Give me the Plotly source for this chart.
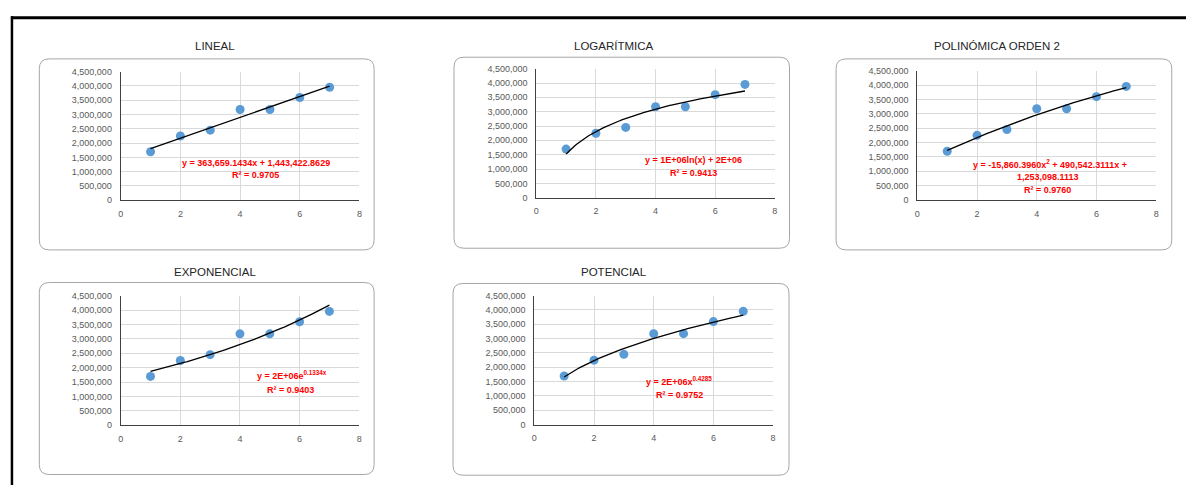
import numpy as np
import plotly.graph_objects as go

W, H = 1189, 490

# --- data -------------------------------------------------------------
periodo = [1, 2, 3, 4, 5, 6, 7]
valores = [1695000, 2249000, 2451000, 3173000, 3174000, 3593000, 3952000]

titulos = ["LINEAL", "LOGARÍTMICA", "POLINÓMICA ORDEN 2", "EXPONENCIAL", "POTENCIAL"]

coef_lineal = [363659.1434, 1443422.8629]              # y = m x + b
coef_polinomica = [-15860.3960, 490542.3111, 1253098.1113]  # y = a x^2 + b x + c

ecuaciones = [
    ["y = 363,659.1434x + 1,443,422.8629", "R² = 0.9705"],
    ["y = 1E+06ln(x) + 2E+06", "R² = 0.9413"],
    ["y = -15,860.3960x<sup>2</sup> + 490,542.3111x +", "1,253,098.1113", "R² = 0.9760"],
    ["y = 2E+06e<sup>0.1334x</sup>", "R² = 0.9403"],
    ["y = 2E+06x<sup>0.4285</sup>", "R² = 0.9752"],
]

x_ticks = [0, 2, 4, 6, 8]
y_ticks = [0, 500000, 1000000, 1500000, 2000000, 2500000, 3000000, 3500000, 4000000, 4500000]

# --- trendlines -------------------------------------------------------
x = np.array(periodo, dtype=float)
y = np.array(valores, dtype=float)
xc = np.linspace(1, 7, 120)

log_a, log_b = np.polyfit(np.log(x), y, 1)
exp_k, exp_lna = np.polyfit(x, np.log(y), 1)
pot_k, pot_lna = np.polyfit(np.log(x), np.log(y), 1)

tendencias = [
    coef_lineal[0] * xc + coef_lineal[1],
    log_a * np.log(xc) + log_b,
    coef_polinomica[0] * xc ** 2 + coef_polinomica[1] * xc + coef_polinomica[2],
    np.exp(exp_lna) * np.exp(exp_k * xc),
    np.exp(pot_lna) * xc ** pot_k,
]

# --- layout of the five panels (pixels) -------------------------------
paneles = [
    dict(area=(118.3, 358.3, 68.0, 199.3), caja=(36.5, 373, 55, 250),
         titulo=(212.7, 41.7), ec=[(254, 161), (254, 174)]),
    dict(area=(536.0, 775.7, 65.0, 196.7), caja=(453.3, 790.5, 53.3, 248.3),
         titulo=(614.3, 41.7), ec=[(694.5, 158.7), (694.5, 172)]),
    dict(area=(919.0, 1159.0, 67.0, 199.0), caja=(837.3, 1174.7, 55, 250),
         titulo=(998.7, 42.0), ec=[(1052.5, 162), (1050, 175.7), (1050, 188.7)]),
    dict(area=(118.3, 358.0, 296.7, 429.0), caja=(36.5, 373, 283.3, 479.3),
         titulo=(212.7, 272.7), ec=[(290, 377.5), (289, 392.7)]),
    dict(area=(534.0, 774.0, 296.7, 428.3), caja=(452.3, 790, 284.3, 480),
         titulo=(613.7, 272.7), ec=[(679.5, 383.5), (679.7, 397.7)]),
]


def px(v):
    return v / W


def py(v):
    return 1 - v / H


def caja_redondeada(x0, x1, y0, y1, r=10):
    pts = [
        f"M {px(x0 + r)},{py(y0)}",
        f"L {px(x1 - r)},{py(y0)}",
        f"Q {px(x1)},{py(y0)} {px(x1)},{py(y0 + r)}",
        f"L {px(x1)},{py(y1 - r)}",
        f"Q {px(x1)},{py(y1)} {px(x1 - r)},{py(y1)}",
        f"L {px(x0 + r)},{py(y1)}",
        f"Q {px(x0)},{py(y1)} {px(x0)},{py(y1 - r)}",
        f"L {px(x0)},{py(y0 + r)}",
        f"Q {px(x0)},{py(y0)} {px(x0 + r)},{py(y0)}",
        "Z",
    ]
    return " ".join(pts)


fig = go.Figure()
shapes = []
annotations = []
FONT = "Liberation Sans, Arial, sans-serif"

for i, p in enumerate(paneles):
    n = "" if i == 0 else str(i + 1)
    xa, ya = "x" + n, "y" + n
    x0, x1, yt, yb = p["area"]

    fig.add_trace(go.Scatter(
        x=periodo, y=valores, mode="markers", xaxis=xa, yaxis=ya,
        marker=dict(size=9, color="#5B9BD5"), hoverinfo="x+y", showlegend=False))
    fig.add_trace(go.Scatter(
        x=xc, y=tendencias[i], mode="lines", xaxis=xa, yaxis=ya,
        line=dict(color="#000000", width=1.3), hoverinfo="skip", showlegend=False))

    fig.update_layout(**{
        "xaxis" + n: dict(
            domain=[px(x0), px(x1)], range=[0, 8], tickvals=x_ticks,
            showgrid=True, gridcolor="#d9d9d9", gridwidth=1,
            showline=True, linecolor="#404040", linewidth=1, zeroline=False,
            ticks="outside", ticklen=5, tickcolor="rgba(0,0,0,0)",
            tickfont=dict(family=FONT, size=9, color="#595959"),
            anchor=ya, fixedrange=True),
        "yaxis" + n: dict(
            domain=[py(yb), py(yt)], range=[0, 4500000], tickvals=y_ticks,
            tickformat=",d",
            showgrid=True, gridcolor="#d9d9d9", gridwidth=1,
            showline=True, linecolor="#404040", linewidth=1, zeroline=False,
            ticks="outside", ticklen=6, tickcolor="rgba(0,0,0,0)",
            tickfont=dict(family=FONT, size=9, color="#595959"),
            anchor=xa, fixedrange=True),
    })

    bx0, bx1, by0, by1 = p["caja"]
    shapes.append(dict(type="path", xref="paper", yref="paper",
                       path=caja_redondeada(bx0, bx1, by0, by1),
                       line=dict(color="#a6a6a6", width=1), layer="below"))

    tx, ty = p["titulo"]
    annotations.append(dict(
        x=px(tx), y=py(ty), xref="paper", yref="paper", text=titulos[i],
        showarrow=False, xanchor="center", yanchor="middle",
        font=dict(family=FONT, size=11.5, color="#262626")))

    for texto, (ex, ey) in zip(ecuaciones[i], p["ec"]):
        annotations.append(dict(
            x=px(ex), y=py(ey), xref="paper", yref="paper",
            text="<b>" + texto + "</b>", showarrow=False,
            xanchor="center", yanchor="middle",
            font=dict(family=FONT, size=9, color="#ff0000")))

# outer frame: top and left edges
shapes.append(dict(type="line", xref="paper", yref="paper",
                   x0=px(8), x1=1, y0=py(13), y1=py(13),
                   line=dict(color="#000000", width=3)))
shapes.append(dict(type="line", xref="paper", yref="paper",
                   x0=px(9), x1=px(9), y0=py(11.5), y1=0,
                   line=dict(color="#000000", width=2.5)))

fig.update_layout(
    width=W, height=H, margin=dict(l=0, r=0, t=0, b=0),
    paper_bgcolor="#ffffff", plot_bgcolor="#ffffff",
    showlegend=False, shapes=shapes, annotations=annotations,
)

fig.write_html("out.html", config={"displayModeBar": False})
